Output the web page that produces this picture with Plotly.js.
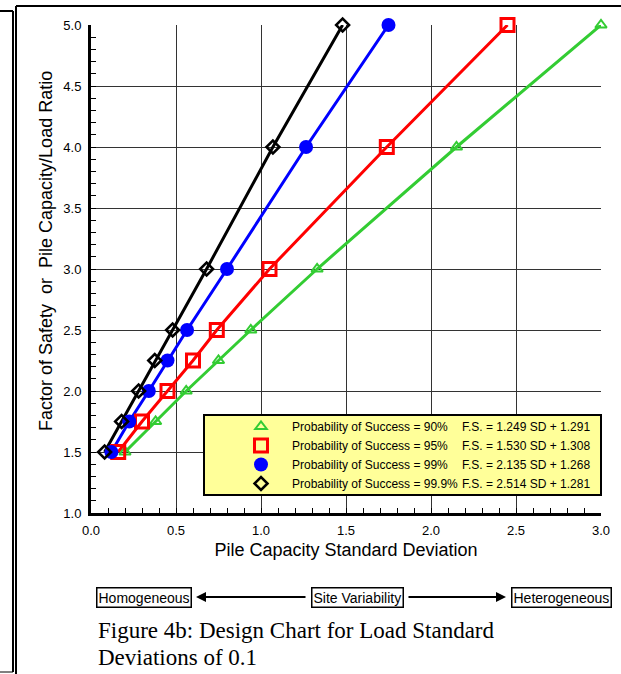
<!DOCTYPE html>
<html>
<head>
<meta charset="utf-8">
<script src="https://cdn.plot.ly/plotly-3.0.1.min.js"></script>
<style>html,body{margin:0;padding:0;background:#fff}#chart{width:621px;height:674px}</style>
</head>
<body>
<div id="chart"></div>
<script>
// Factor of safety levels (y values)
const fsLevels = [1.5, 1.75, 2.0, 2.25, 2.5, 3.0, 4.0, 5.0];
// Pile capacity standard deviation (x values) per probability of success
const sd90  = [0.20, 0.38, 0.56, 0.75, 0.94, 1.33, 2.15, 3.00];
const sd95  = [0.16, 0.30, 0.45, 0.60, 0.74, 1.05, 1.74, 2.45];
const sd99  = [0.12, 0.225, 0.34, 0.45, 0.565, 0.80, 1.265, 1.75];
const sd999 = [0.08, 0.18, 0.28, 0.375, 0.48, 0.68, 1.07, 1.48];
const seriesNames = ['Probability of Success = 90%', 'Probability of Success = 95%',
                     'Probability of Success = 99%', 'Probability of Success = 99.9%'];
const equations = ['F.S. = 1.249 SD + 1.291', 'F.S. = 1.530 SD + 1.308',
                   'F.S. = 2.135 SD + 1.268', 'F.S. = 2.514 SD + 1.281'];
const xTickVals = [0, 0.5, 1.0, 1.5, 2.0, 2.5, 3.0];
const yTickVals = [1.0, 1.5, 2.0, 2.5, 3.0, 3.5, 4.0, 4.5, 5.0];

const AR = 'Arial, "Liberation Sans", sans-serif';
const TIMES = '"Times New Roman", "Liberation Serif", serif';
const colors = ['#33CC33', '#FF0000', '#0000FF', '#000000'];
const markers = [
  {symbol: 'triangle-up-open', size: 10, line: {width: 2}},
  {symbol: 'square-open', size: 13, line: {width: 3}},
  {symbol: 'circle', size: 14, line: {width: 0}},
  {symbol: 'diamond-open', size: 10, line: {width: 2.5}}
];
const allSd = [sd90, sd95, sd99, sd999];

const traces = [];
allSd.forEach((sd, i) => {
  traces.push({x: sd, y: fsLevels, type: 'scatter', mode: 'lines', showlegend: false,
    line: {color: colors[i], width: 3}, cliponaxis: false, hoverinfo: 'skip'});
});
allSd.forEach((sd, i) => {
  const m = Object.assign({}, markers[i], {color: colors[i]});
  m.line = Object.assign({}, markers[i].line, {color: colors[i]});
  traces.push({x: sd, y: fsLevels, type: 'scatter', mode: 'markers', name: seriesNames[i],
    marker: m, cliponaxis: false});
});

// pixel -> paper helpers (layout geometry)
const L = 91, R = 601, T = 25, B = 513;
const px = v => (v - L) / (R - L);
const py = v => (B - v) / (B - T);

const rowY = [427, 446, 465, 484];
const annotations = equations.map((e, i) => ({
  xref: 'paper', yref: 'paper', x: px(460), y: py(rowY[i]), xanchor: 'left', yanchor: 'middle',
  text: e, showarrow: false, font: {family: AR, size: 12, color: '#000'}
}));

annotations.push({xref: 'paper', yref: 'paper', x: px(46), y: py(251), textangle: -90,
  text: 'Factor of Safety&nbsp;&nbsp;or&nbsp;&nbsp;Pile Capacity/Load Ratio', showarrow: false,
  font: {family: AR, size: 18, color: '#000'}, xanchor: 'center', yanchor: 'middle'});

const boxFont = {family: AR, size: 14, color: '#000'};
[['Homogeneous', 144], ['Site Variability', 357], ['Heterogeneous', 561]].forEach(([t, cx]) => {
  annotations.push({xref: 'paper', yref: 'paper', x: px(cx), y: py(597), text: t, showarrow: false,
    bordercolor: '#000', borderwidth: 1.5, borderpad: 1, bgcolor: '#fff', font: boxFont,
    xanchor: 'center', yanchor: 'middle'});
});
annotations.push({xref: 'paper', yref: 'paper', x: px(196), y: py(597), ax: 111, ay: 0, text: '',
  showarrow: true, arrowhead: 2, arrowsize: 1, arrowwidth: 2, arrowcolor: '#000'});
annotations.push({xref: 'paper', yref: 'paper', x: px(506), y: py(597), ax: -99, ay: 0, text: '',
  showarrow: true, arrowhead: 2, arrowsize: 1, arrowwidth: 2, arrowcolor: '#000'});
annotations.push({xref: 'paper', yref: 'paper', x: px(96), y: py(630), xanchor: 'left', yanchor: 'middle',
  align: 'left', showarrow: false, text: 'Figure 4b: Design Chart for Load Standard',
  font: {family: TIMES, size: 23, color: '#000'}});
annotations.push({xref: 'paper', yref: 'paper', x: px(96), y: py(657), xanchor: 'left', yanchor: 'middle',
  align: 'left', showarrow: false, text: 'Deviations of 0.1',
  font: {family: TIMES, size: 23, color: '#000'}});

const shapes = [
  {type: 'rect', xref: 'paper', yref: 'paper', x0: px(204), x1: px(601), y0: py(495), y1: py(415),
   fillcolor: '#FFFF99', line: {color: '#000', width: 2}, layer: 'above'},
  {type: 'line', xref: 'paper', yref: 'paper', x0: px(16), x1: px(625), y0: py(6), y1: py(6), line: {color: '#000', width: 2}},
  {type: 'line', xref: 'paper', yref: 'paper', x0: px(16), x1: px(16), y0: py(6), y1: py(680), line: {color: '#000', width: 2}},
  {type: 'line', xref: 'paper', yref: 'paper', x0: px(-5), x1: px(13), y0: py(11), y1: py(11), line: {color: '#000', width: 2}},
  {type: 'line', xref: 'paper', yref: 'paper', x0: px(13), x1: px(13), y0: py(11), y1: py(672), line: {color: '#000', width: 2}},
  {type: 'line', xref: 'paper', yref: 'paper', x0: px(-5), x1: px(13), y0: py(672), y1: py(672), line: {color: '#000', width: 1}}
];

const axisCommon = {
  showline: true, linecolor: '#000', linewidth: 3, showgrid: true, gridcolor: '#333', gridwidth: 1,
  ticks: 'inside', ticklen: 5, tickcolor: '#000', zeroline: false, tickformat: '.1f',
  tickfont: {family: AR, size: 13, color: '#000'},
  minor: {ticks: 'inside', dtick: 0.1, ticklen: 5, tickcolor: '#000', showgrid: false}
};

const layout = {
  width: 621, height: 674, paper_bgcolor: '#fff', plot_bgcolor: '#fff',
  margin: {l: L, r: 621 - R, t: T, b: 674 - B},
  showlegend: true,
  legend: {x: px(230), y: py(412), xanchor: 'left', yanchor: 'top', bgcolor: 'rgba(0,0,0,0)',
    borderwidth: 0, itemwidth: 52, font: {family: AR, size: 12, color: '#000'}, tracegroupgap: 0},
  xaxis: Object.assign({}, axisCommon, {range: [0, 3], tickvals: xTickVals, ticklabelstandoff: 3,
    title: {text: 'Pile Capacity Standard Deviation', font: {family: AR, size: 18, color: '#000'}, standoff: 7}}),
  yaxis: Object.assign({}, axisCommon, {range: [1, 5], tickvals: yTickVals, ticklabelstandoff: 4}),
  annotations: annotations,
  shapes: shapes
};

Plotly.newPlot('chart', traces, layout, {staticPlot: true, displayModeBar: false});
</script>
</body>
</html>
